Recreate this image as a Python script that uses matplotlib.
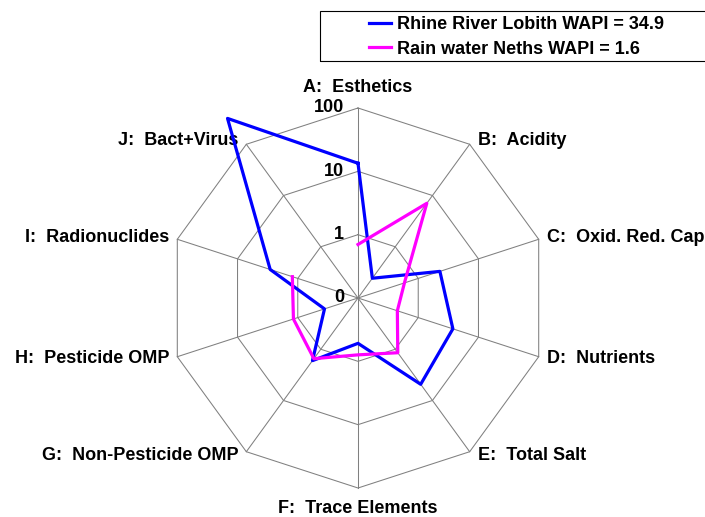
import numpy as np
import matplotlib
matplotlib.use('Agg')
import matplotlib.pyplot as plt
from matplotlib.patches import Rectangle

# water quality aspects, one spoke each
categories = ['A:  Esthetics', 'B:  Acidity', 'C:  Oxid. Red. Cap', 'D:  Nutrients',
              'E:  Total Salt', 'F:  Trace Elements', 'G:  Non-Pesticide OMP',
              'H:  Pesticide OMP', 'I:  Radionuclides', 'J:  Bact+Virus']
rhine = [13.4, 0.243, 2.29, 3.76, 4.83, 0.52, 1.67, 0.36, 2.87, 320.0]
rain = [0.70, 7.05, 0.59, 0.45, 1.17, 0.79, 1.53, 1.18, 1.23, np.nan]  # no J value
series_names = ['Rhine River Lobith WAPI = 34.9', 'Rain water Neths WAPI = 1.6']
series_colors = ['#0000ff', '#ff00ff']
ring_values = [0.1, 1, 10, 100]
ring_labels = ['0', '1', '10', '100']

plt.rcParams['font.family'] = ['Liberation Sans', 'DejaVu Sans']
plt.rcParams['font.weight'] = 'bold'
fs = 13

W, H = 705, 517
cx, cy, R = 358, 298, 190  # chart centre and outer radius in pixels

fig = plt.figure(figsize=(W / 100, H / 100), dpi=100)
ax = fig.add_axes([(cx - R) / W, (H - cy - R) / H, 2 * R / W, 2 * R / H],
                  projection='polar')
ax.set_theta_offset(np.pi / 2)
ax.set_theta_direction(-1)
ax.set_rscale('log')
ax.set_rlim(ring_values[0], ring_values[-1])
ax.set_axis_off()

n = len(categories)
theta = np.arange(n) * 2 * np.pi / n
closed = np.append(theta, theta[0])

# decagon rings and spokes
grid_kw = dict(color='#808080', lw=0.75, clip_on=False, zorder=1)
for v in ring_values[1:]:
    ax.plot(closed, [v] * (n + 1), **grid_kw)
for t in theta:
    ax.plot([t, t], [ring_values[0], ring_values[-1]], **grid_kw)

for v, lbl in zip(ring_values, ring_labels):
    ax.annotate(lbl, xy=(0, v), xytext=(-14, 0), textcoords='offset pixels',
                ha='right', va='center', fontsize=fs, fontweight='bold')

# category labels around the outer ring
for t, lbl in zip(theta, categories):
    s = np.sin(t)
    if abs(s) < 1e-6:
        off = (0, 20.5 * np.cos(t))
        ha = 'center'
    else:
        off = (8 * np.sign(s), 5 * np.cos(t))
        ha = 'left' if s > 0 else 'right'
    ax.annotate(lbl, xy=(t, ring_values[-1]), xytext=off, textcoords='offset pixels',
                ha=ha, va='center', fontsize=fs, fontweight='bold',
                annotation_clip=False)

handles = []
for vals, name, col in zip([rhine, rain], series_names, series_colors):
    vals = np.append(vals, vals[0])
    ln, = ax.plot(closed, vals, color=col, lw=2.3, clip_on=False, zorder=3,
                  label=name)
    handles.append(ln)

# legend with a frame running off the right edge
fig.legend(handles=handles, loc='upper left',
           bbox_to_anchor=(369 / W, 1 - 16 / H), bbox_transform=fig.transFigure,
           frameon=False, borderpad=0, borderaxespad=0, fontsize=fs,
           handlelength=1.24, handletextpad=0.31, labelspacing=0.42)
fig.add_artist(Rectangle((319.5 / W, 1 - 61 / H), 0.6, 50 / H,
                         transform=fig.transFigure, fill=False,
                         edgecolor='black', lw=0.8, clip_on=False))

fig.savefig('out.png', dpi=100)
